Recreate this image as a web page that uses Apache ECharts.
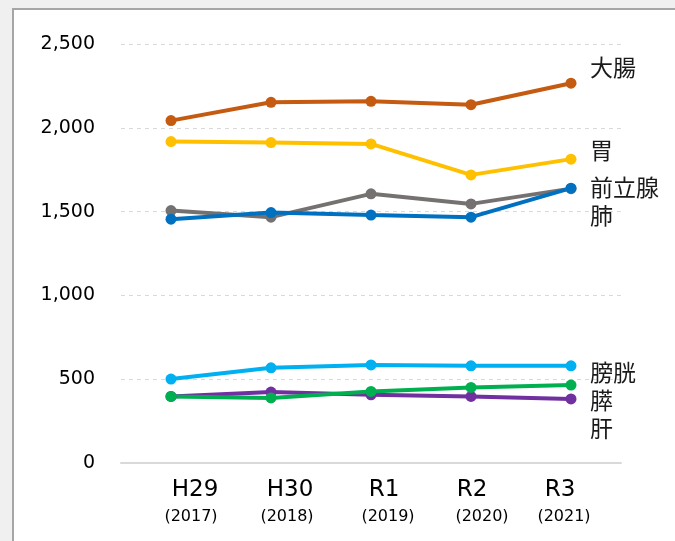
<!DOCTYPE html>
<html>
<head>
<meta charset="utf-8">
<script src="https://cdn.jsdelivr.net/npm/echarts@6/dist/echarts.min.js"></script>
<style>
  html, body { margin: 0; padding: 0; background: #f0f0f0; }
  #frame { position: absolute; left: 12px; top: 8px; right: 0; bottom: 0; background: #fff;
           border-left: 2px solid #a6a6a6; border-top: 2px solid #a6a6a6; }
  #main { position: absolute; left: 0; top: 0; width: 675px; height: 541px; }
</style>
</head>
<body>
<div id="frame"></div>
<div id="main"></div>
<script>
// ---- data ----
const categories = ['H29', 'H30', 'R1', 'R2', 'R3'];
const years = ['(2017)', '(2018)', '(2019)', '(2020)', '(2021)'];
const seriesNames = ['大腸', '胃', '前立腺', '肺', '膀胱', '肝', '膵'];
const colorectal = [2043, 2152, 2158, 2138, 2266];
const stomach = [1918, 1912, 1904, 1719, 1813];
const prostate = [1506, 1467, 1606, 1546, 1637];
const lung = [1455, 1494, 1479, 1467, 1640];
const bladder = [501, 568, 585, 580, 580];
const liver = [397, 423, 407, 397, 382];
const pancreas = [397, 388, 427, 451, 465];
const yTicks = [0, 500, 1000, 1500, 2000, 2500];

// ---- styles ----
const seriesData = [colorectal, stomach, prostate, lung, bladder, liver, pancreas];
const colors = ['#C55A11', '#FFC000', '#767171', '#0070C0', '#00B0F0', '#7030A0', '#00B050'];
const labelDy = [-16, -9, -1, 27, 6, 29, 15];
const catShift = [24, 19, 13, 1, -11];
const yearShift = [20, 16, 17, 11, -7];

const rich = {};
catShift.forEach((s, i) => {
  rich['m' + i] = { fontSize: 23, lineHeight: 30, color: '#000', fontFamily: 'DejaVu Sans',
    padding: s >= 0 ? [0, 0, 0, 2 * s] : [0, -2 * s, 0, 0] };
});
yearShift.forEach((s, i) => {
  rich['y' + i] = { fontSize: 16, lineHeight: 24, color: '#000', fontFamily: 'DejaVu Sans',
    padding: s >= 0 ? [0, 0, 0, 2 * s] : [0, -2 * s, 0, 0] };
});

const chart = echarts.init(document.getElementById('main'), null, { renderer: 'canvas' });
chart.setOption({
  animation: false,
  backgroundColor: 'transparent',
  grid: { left: 121, right: 54, top: 44, bottom: 78 },
  xAxis: {
    type: 'category',
    data: categories,
    boundaryGap: true,
    axisLine: { show: true, lineStyle: { color: '#d9d9d9', width: 2 } },
    axisTick: { show: false },
    axisLabel: {
      margin: 12,
      interval: 0,
      formatter: (v, i) => '{m' + i + '|' + v + '}\n{y' + i + '|' + years[i] + '}',
      rich: rich
    }
  },
  yAxis: {
    type: 'value',
    min: yTicks[0],
    max: yTicks[yTicks.length - 1],
    interval: 500,
    axisLine: { show: false },
    axisTick: { show: false },
    splitLine: { show: true, lineStyle: { color: '#d9d9d9', type: [4, 4], width: 1 } },
    axisLabel: {
      margin: 26,
      fontSize: 19,
      color: '#000',
      fontFamily: 'DejaVu Sans',
      formatter: v => v.toLocaleString('en-US')
    }
  },
  series: seriesNames.map((name, k) => ({
    name: name,
    type: 'line',
    data: seriesData[k],
    symbol: 'circle',
    symbolSize: 11,
    lineStyle: { width: 4, color: colors[k] },
    itemStyle: { color: colors[k] },
    endLabel: {
      show: true,
      formatter: '{a}',
      color: '#1a1a1a',
      fontSize: 23,
      fontFamily: 'Noto Sans CJK JP',
      distance: 19,
      offset: [0, labelDy[k]]
    }
  }))
});
</script>
</body>
</html>
